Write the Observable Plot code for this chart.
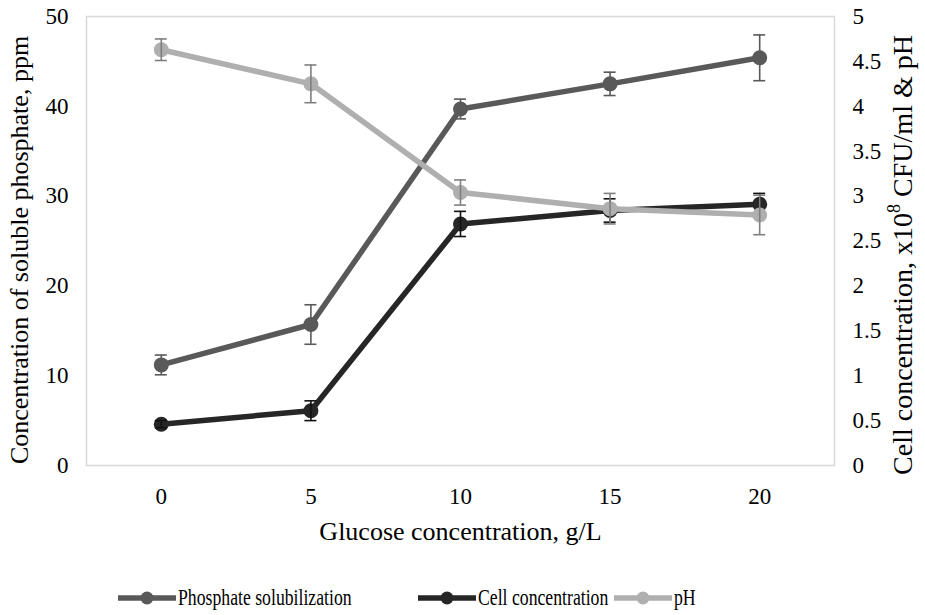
<!DOCTYPE html>
<html>
<head>
<meta charset="utf-8">
<script src="https://cdn.jsdelivr.net/npm/d3@7"></script>
<script src="https://cdn.jsdelivr.net/npm/@observablehq/plot@0.6"></script>
<style>
  body { margin: 0; background: #fff; font-family: "Liberation Serif", "Times New Roman", serif; }
  #chart svg { display: block; }
  #legend { position: relative; width: 925px; height: 55px; font-size: 23px; color: #000; }
  .item { position: absolute; top: 28px; height: 20px; }
  .item svg { position: absolute; left: 0; top: 2px; display: block; }
  .item span { position: absolute; left: 60px; top: -4px; white-space: nowrap; display: inline-block; transform: scaleX(0.77); transform-origin: 0 50%; line-height: 27px; }
</style>
</head>
<body>
<div id="chart"></div>
<div id="legend"></div>
<script>
// Glucose concentration, g/L
const glucose = [0, 5, 10, 15, 20];

// Soluble phosphate, ppm (left axis)
const phosphate = [11.2, 15.7, 39.7, 42.5, 45.4];
const phosphateErr = [1.1, 2.2, 1.1, 1.3, 2.55];

// Cell concentration, x10^8 CFU/ml (right axis)
const cells = [0.46, 0.61, 2.69, 2.84, 2.91];
const cellsErr = [0.04, 0.11, 0.14, 0.13, 0.12];

// pH (right axis)
const pH = [4.63, 4.25, 3.04, 2.86, 2.79];
const pHErr = [0.12, 0.21, 0.14, 0.17, 0.22];

const leftTicks = [0, 10, 20, 30, 40, 50];
const rightTicks = [0, 0.5, 1, 1.5, 2, 2.5, 3, 3.5, 4, 4.5, 5];

const seriesNames = ["Phosphate solubilization", "Cell concentration", "pH"];
const seriesColors = ["#595959", "#262626", "#afafaf"];
const errColors = ["#595959", "#111111", "#7f7f7f"];

// Right-axis quantities share the left scale: 1 unit on the right = 10 ppm on the left
const rightFactor = 10;

const series = [
  {name: seriesNames[0], values: phosphate, errs: phosphateErr, k: 1},
  {name: seriesNames[1], values: cells, errs: cellsErr, k: rightFactor},
  {name: seriesNames[2], values: pH, errs: pHErr, k: rightFactor}
].map((s, i) => ({
  ...s,
  color: seriesColors[i],
  err: errColors[i],
  rows: glucose.map((g, j) => ({
    x: g,
    y: s.values[j] * s.k,
    lo: (s.values[j] - s.errs[j]) * s.k,
    hi: (s.values[j] + s.errs[j]) * s.k
  }))
}));

const W = 925, H = 560;
const capHalf = 0.2;
const serif = "'Liberation Serif', 'Times New Roman', serif";

const marks = [
  Plot.frame({stroke: "#d9d9d9", strokeWidth: 1.5}),
  Plot.axisX({ticks: glucose, tickSize: 0, tickPadding: 22, label: null, fontSize: 23}),
  Plot.axisY({ticks: leftTicks, tickSize: 0, tickPadding: 18, label: null, fontSize: 23}),
  Plot.axisY({anchor: "right", ticks: rightTicks.map(v => v * rightFactor),
    tickFormat: d => String(Math.round(d) / rightFactor), tickSize: 0, tickPadding: 18, label: null, fontSize: 23}),
  Plot.text(["Concentration of soluble phosphate, ppm"], {frameAnchor: "left", textAnchor: "middle", lineAnchor: "middle", dx: -67, dy: 9, rotate: -90, fontSize: 26, fontFamily: serif}),
  Plot.text(["Glucose concentration, g/L"], {frameAnchor: "bottom", textAnchor: "middle", lineAnchor: "middle", dy: 66, fontSize: 26, fontFamily: serif})
];

for (const s of series) {
  marks.push(
    Plot.line(s.rows, {x: "x", y: "y", stroke: s.color, strokeWidth: 5.5}),
    Plot.dot(s.rows, {x: "x", y: "y", r: 7.5, fill: s.color, stroke: "none"}),
    Plot.ruleX(s.rows, {x: "x", y1: "lo", y2: "hi", stroke: s.err, strokeWidth: 1.6}),
    Plot.ruleY(s.rows, {y: "hi", x1: d => d.x - capHalf, x2: d => d.x + capHalf, stroke: s.err, strokeWidth: 1.6}),
    Plot.ruleY(s.rows, {y: "lo", x1: d => d.x - capHalf, x2: d => d.x + capHalf, stroke: s.err, strokeWidth: 1.6})
  );
}

const chart = Plot.plot({
  width: W,
  height: H,
  marginLeft: 86,
  marginRight: 91,
  marginTop: 16,
  marginBottom: 95,
  style: {fontFamily: serif, color: "#000", background: "#fff", overflow: "visible"},
  x: {domain: [-2.5, 22.5]},
  y: {domain: [0, 50]},
  marks
});
document.getElementById("chart").appendChild(chart);

// Right axis title with a superscript exponent
const svg = d3.select(chart);
const t = svg.append("text")
  .attr("transform", "translate(906,255) rotate(-90)")
  .attr("text-anchor", "middle")
  .attr("dominant-baseline", "middle")
  .attr("font-family", serif)
  .attr("font-size", 28)
  .attr("fill", "#000");
t.append("tspan").text("Cell concentration, x10");
t.append("tspan").attr("font-size", 18).attr("dy", -10).text("8");
t.append("tspan").attr("dy", 10).text(" CFU/ml & pH");

// Legend below the chart
const legendLeft = [118, 418, 614];
const legend = d3.select("#legend");
series.forEach((s, i) => {
  const item = legend.append("div").attr("class", "item").style("left", legendLeft[i] + "px");
  const sw = item.append("svg").attr("width", 58).attr("height", 16);
  sw.append("line").attr("x1", 0).attr("x2", 58).attr("y1", 8).attr("y2", 8)
    .attr("stroke", s.color).attr("stroke-width", 5.5);
  sw.append("circle").attr("cx", 29).attr("cy", 8).attr("r", 6.5).attr("fill", s.color);
  item.append("span").text(s.name);
});
</script>
</body>
</html>
